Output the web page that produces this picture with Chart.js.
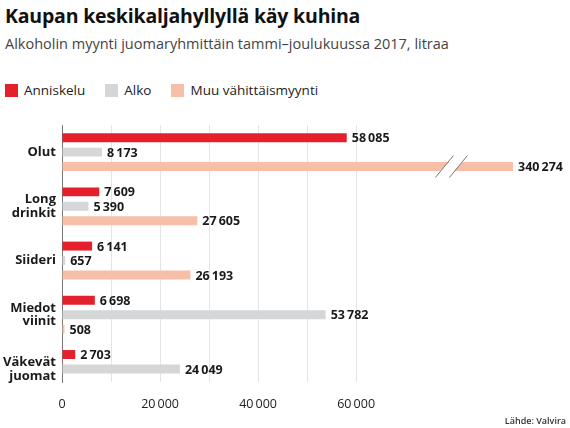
<!DOCTYPE html>
<html>
<head>
<meta charset="utf-8">
<script src="https://cdn.jsdelivr.net/npm/chart.js@4"></script>
<style>
  html, body { margin: 0; padding: 0; background: #fff; }
  body { width: 570px; height: 428px; position: relative; overflow: hidden; font-family: "Open Sans", sans-serif; color: #222; }
  #title { position: absolute; left: 5px; top: 2px; font-size: 19.5px; font-weight: 700; letter-spacing: -0.2px; white-space: nowrap; color: #111; }
  #subtitle { position: absolute; left: 5px; top: 34px; font-size: 14.5px; font-weight: 400; color: #444; white-space: nowrap; }
  #legend { position: absolute; left: 5px; top: 81px; font-size: 13.5px; white-space: nowrap; }
  #legend span.item { display: inline-block; margin-right: 20px; }
  #legend span.box { display: inline-block; width: 13px; height: 13px; vertical-align: -2px; margin-right: 6px; }
  #source { position: absolute; right: 4px; top: 414px; font-size: 9px; font-weight: 600; color: #333; }
  #wrap { position: absolute; left: 0; top: 0; width: 570px; height: 428px; }
</style>
</head>
<body>
<div id="title">Kaupan keskikaljahyllyllä käy kuhina</div>
<div id="subtitle">Alkoholin myynti juomaryhmittäin tammi–joulukuussa 2017, litraa</div>
<div id="legend"></div>
<div id="wrap"><canvas id="chart"></canvas></div>
<div id="source">Lähde: Valvira</div>
<script>
// categories (multi-line labels) and series, litres
const categories = [['Olut'], ['Long', 'drinkit'], ['Siideri'], ['Miedot', 'viinit'], ['Väkevät', 'juomat']];
const anniskelu = [58085, 7609, 6141, 6698, 2703];
const alko = [8173, 5390, 657, 53782, 24049];
const muuVahittais = [340274, 27605, 26193, 508, null];
const seriesNames = ['Anniskelu', 'Alko', 'Muu vähittäismyynti'];
const seriesColors = ['#e4202c', '#d5d6d8', '#f7bfa8'];
const xGridValues = [0, 10000, 20000, 30000, 40000, 50000, 60000];
const xTickLabels = [0, 20000, 40000, 60000];

function fmt(v) {
  return String(v).replace(/\B(?=(\d{3})+(?!\d))/g, '\u2009');
}

// html legend
const legendEl = document.getElementById('legend');
seriesNames.forEach(function (name, i) {
  const item = document.createElement('span');
  item.className = 'item';
  item.innerHTML = '<span class="box" style="background:' + seriesColors[i] + '"></span>' + name;
  legendEl.appendChild(item);
});

function toPoints(values) {
  return values.map(function (v, i) { return { x: v, y: i }; });
}

// value labels at the end of each bar
const valueLabels = {
  id: 'valueLabels',
  afterDatasetsDraw(chart) {
    const ctx = chart.ctx;
    const area = chart.chartArea;
    ctx.save();
    ctx.font = 'bold 12.5px "Open Sans", sans-serif';
    ctx.fillStyle = '#1a1a1a';
    ctx.textBaseline = 'middle';
    ctx.textAlign = 'left';
    chart.data.datasets.forEach(function (ds, di) {
      const meta = chart.getDatasetMeta(di);
      meta.data.forEach(function (el, i) {
        const v = ds.data[i].x;
        if (v === null) return;
        const x = Math.min(el.x, area.right) + 5;
        ctx.fillText(fmt(v), x, el.y + 1);
      });
    });
    ctx.restore();
  }
};

// break marks on bars that run past the axis max
const axisBreak = {
  id: 'axisBreak',
  afterDatasetsDraw(chart, args, opts) {
    const ctx = chart.ctx;
    const xs = chart.scales.x;
    const bx = xs.getPixelForValue(opts.at);
    const w = opts.gap;
    chart.data.datasets.forEach(function (ds, di) {
      const meta = chart.getDatasetMeta(di);
      meta.data.forEach(function (el, i) {
        const v = ds.data[i].x;
        if (v === null || v <= xs.max) return;
        const h = el.height / 2;
        const s = 5;
        ctx.save();
        ctx.fillStyle = '#fff';
        ctx.beginPath();
        ctx.moveTo(bx - s, el.y + h + 0.5);
        ctx.lineTo(bx + s, el.y - h - 0.5);
        ctx.lineTo(bx + s + w, el.y - h - 0.5);
        ctx.lineTo(bx - s + w, el.y + h + 0.5);
        ctx.closePath();
        ctx.fill();
        ctx.strokeStyle = '#777';
        ctx.lineWidth = 1;
        ctx.beginPath();
        ctx.moveTo(bx - s - 4, el.y + h + 6.5);
        ctx.lineTo(bx + s + 4, el.y - h - 6.5);
        ctx.moveTo(bx - s - 4 + w, el.y + h + 6.5);
        ctx.lineTo(bx + s + 4 + w, el.y - h - 6.5);
        ctx.stroke();
        ctx.restore();
      });
    });
  }
};

new Chart(document.getElementById('chart'), {
  type: 'bar',
  data: {
    datasets: [
      { label: seriesNames[0], data: toPoints(anniskelu), backgroundColor: seriesColors[0] },
      { label: seriesNames[1], data: toPoints(alko), backgroundColor: seriesColors[1] },
      { label: seriesNames[2], data: toPoints(muuVahittais), backgroundColor: seriesColors[2] }
    ]
  },
  options: {
    indexAxis: 'y',
    responsive: true,
    maintainAspectRatio: false,
    animation: false,
    devicePixelRatio: 1,
    barPercentage: 0.62,
    categoryPercentage: 0.8,
    clip: 0,
    layout: { padding: { top: 125, right: 57, bottom: 0, left: 0 } },
    scales: {
      x: {
        type: 'linear',
        min: 0,
        max: 92000,
        border: { display: false },
        afterBuildTicks: function (s) {
          s.ticks = xGridValues.map(function (v) { return { value: v }; });
        },
        grid: {
          drawTicks: false,
          color: function (c) {
            const v = c.tick ? c.tick.value : 0;
            return v > 0 ? '#e4e4e4' : 'rgba(0,0,0,0)';
          }
        },
        ticks: {
          autoSkip: false,
          maxRotation: 0,
          padding: 15,
          color: '#222',
          font: { family: '"Open Sans", sans-serif', size: 12.5 },
          callback: function (v) {
            return xTickLabels.indexOf(v) >= 0 ? fmt(v) : '';
          }
        },
        afterFit: function (s) { s.height = 46; }
      },
      y: {
        type: 'linear',
        offset: false,
        min: -0.5,
        max: 4.24,
        reverse: true,
        afterBuildTicks: function (s) {
          s.ticks = categories.map(function (c, i) { return { value: i }; });
        },
        grid: { display: false, drawTicks: false, offset: false },
        border: { display: true, color: '#777', width: 1 },
        ticks: {
          autoSkip: false,
          padding: 6,
          color: '#1a1a1a',
          font: { family: '"Open Sans", sans-serif', size: 13, weight: 'bold', lineHeight: 1.05 },
          callback: function (v) {
            return categories[v] || '';
          }
        },
        afterFit: function (s) { s.width = 62; }
      }
    },
    plugins: {
      legend: { display: false },
      tooltip: { enabled: false },
      axisBreak: { at: 78000, gap: 14 }
    }
  },
  plugins: [valueLabels, axisBreak]
});
</script>
</body>
</html>
